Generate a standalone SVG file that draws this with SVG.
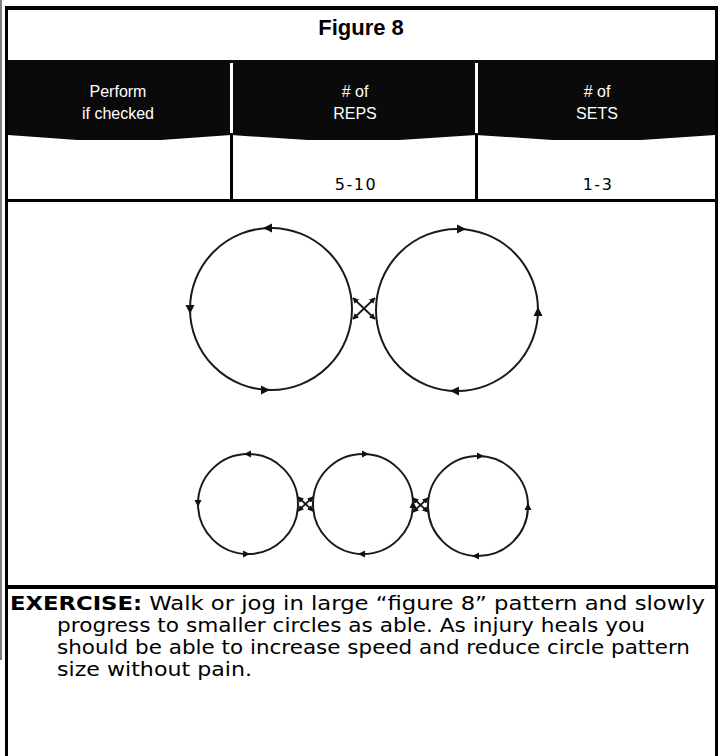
<svg xmlns="http://www.w3.org/2000/svg" width="723" height="756" viewBox="0 0 723 756">
<style>
.title{font-family:"Liberation Sans",Arial,sans-serif;font-weight:bold;font-size:22px;fill:#000;text-anchor:middle}
.hdr{font-family:"Liberation Sans",Arial,sans-serif;font-size:16px;fill:#fff;text-anchor:middle}
.val{font-family:"DejaVu Sans",Verdana,sans-serif;font-size:16px;fill:#000;text-anchor:middle;letter-spacing:1.5px}
.ex{font-family:"DejaVu Sans",Verdana,sans-serif;font-size:19px;fill:#000}
.exb{font-weight:bold}
.circ{fill:none;stroke:#1a1a1a;stroke-width:2}
.xarr{stroke:#1a1a1a;stroke-width:1.8;fill:none;marker-start:url(#ah);marker-end:url(#ah)}
.tri{fill:#111}
</style>
<defs>
<marker id="ah" viewBox="0 0 10 10" refX="9" refY="5" markerWidth="6" markerHeight="6" orient="auto-start-reverse" markerUnits="userSpaceOnUse">
<path d="M0,0 L10,5 L0,10 Z" fill="#111"/>
</marker>
<path id="tb" class="tri" d="M5,0 L-4,-4.5 L-4,4.5 Z"/>
<path id="ts" class="tri" d="M4,0 L-3,-3.5 L-3,3.5 Z"/>
</defs>
<rect width="723" height="756" fill="#fff"/>
<line x1="1" y1="0" x2="1" y2="660" stroke="#555" stroke-width="1.5"/>

<g id="table">
<rect x="5" y="60" width="713" height="80" fill="#0a0a0a"/>
<path d="M8,135 L119,143 L231,135 L354,143 L476,135 L597,143 L715,135 L715,145 L8,145 Z" fill="#fff"/>
<rect x="230" y="63" width="3" height="70" fill="#fff"/>
<rect x="475" y="63" width="3" height="70" fill="#fff"/>
<rect x="230" y="135" width="3" height="66" fill="#000"/>
<rect x="475" y="135" width="3" height="66" fill="#000"/>
<text class="title" x="361" y="35">Figure 8</text>
<text class="hdr" x="118" y="97">Perform</text>
<text class="hdr" x="118" y="119">if checked</text>
<text class="hdr" x="355" y="97"># of</text>
<text class="hdr" x="355" y="119">REPS</text>
<text class="hdr" x="597" y="97"># of</text>
<text class="hdr" x="597" y="119">SETS</text>
<text class="val" x="356" y="190">5-10</text>
<text class="val" x="598" y="190">1-3</text>
</g>

<g id="frame">
<rect x="5" y="6" width="713" height="4" fill="#000"/>
<rect x="5" y="6" width="3" height="750" fill="#000"/>
<rect x="715" y="6" width="3" height="750" fill="#000"/>
<rect x="5" y="199" width="713" height="3" fill="#000"/>
<rect x="5" y="585" width="713" height="4" fill="#000"/>
</g>

<g id="big-left">
<circle class="circ" cx="271" cy="309" r="81"/>
<use href="#tb" transform="translate(268,228) rotate(180)"/>
<use href="#tb" transform="translate(190,309) rotate(90)"/>
<use href="#tb" transform="translate(265,390)"/>
</g>
<g id="big-right">
<circle class="circ" cx="457" cy="310" r="81"/>
<use href="#tb" transform="translate(461,229)"/>
<use href="#tb" transform="translate(538,312) rotate(-90)"/>
<use href="#tb" transform="translate(455,391) rotate(180)"/>
</g>

<g id="small-1">
<circle class="circ" cx="248" cy="504" r="50"/>
<use href="#ts" transform="translate(248,454) rotate(180)"/>
<use href="#ts" transform="translate(198,503) rotate(90)"/>
<use href="#ts" transform="translate(246,554)"/>
</g>
<g id="small-2">
<circle class="circ" cx="363" cy="504" r="50"/>
<use href="#ts" transform="translate(365,454)"/>
<use href="#ts" transform="translate(413,505) rotate(-90)"/>
<use href="#ts" transform="translate(362,554) rotate(180)"/>
</g>
<g id="small-3">
<circle class="circ" cx="478" cy="506" r="50"/>
<use href="#ts" transform="translate(480,456)"/>
<use href="#ts" transform="translate(528,507) rotate(-90)"/>
<use href="#ts" transform="translate(476,556) rotate(180)"/>
</g>

<g id="connectors">
<line class="xarr" x1="353" y1="298" x2="375" y2="319"/>
<line class="xarr" x1="375" y1="298" x2="353" y2="319"/>
<line class="xarr" x1="298" y1="497" x2="313" y2="511"/>
<line class="xarr" x1="313" y1="497" x2="298" y2="511"/>
<line class="xarr" x1="413" y1="498" x2="428" y2="512"/>
<line class="xarr" x1="428" y1="498" x2="413" y2="512"/>
</g>

<g id="exercise">
<text class="ex" x="10" y="610" textLength="695" lengthAdjust="spacingAndGlyphs"><tspan class="exb">EXERCISE:</tspan> Walk or jog in large “figure 8” pattern and slowly</text>
<text class="ex" x="57" y="632" textLength="588" lengthAdjust="spacingAndGlyphs">progress to smaller circles as able. As injury heals you</text>
<text class="ex" x="57" y="654" textLength="633" lengthAdjust="spacingAndGlyphs">should be able to increase speed and reduce circle pattern</text>
<text class="ex" x="57" y="676" textLength="195" lengthAdjust="spacingAndGlyphs">size without pain.</text>
</g>
</svg>
